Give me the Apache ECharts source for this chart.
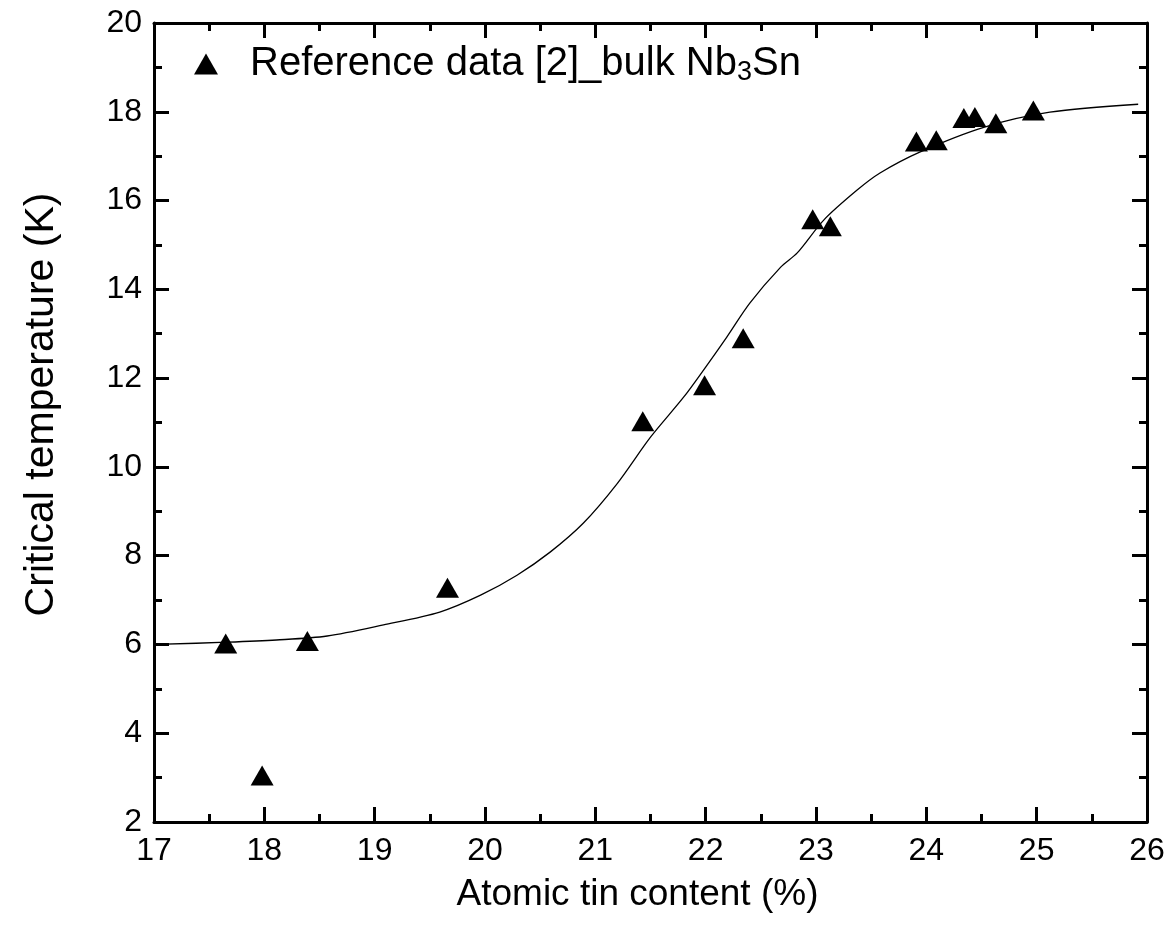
<!DOCTYPE html>
<html>
<head>
<meta charset="utf-8">
<script src="https://cdn.jsdelivr.net/npm/echarts@6/dist/echarts.min.js"></script>
<style>html,body{margin:0;padding:0;background:#fff}#c{width:1174px;height:940px}</style>
</head>
<body>
<div id="c"></div>
<script>
// Measured data: atomic tin content (%) vs critical temperature (K)
const dataX = [17.65, 17.98, 18.39, 19.66, 21.43, 21.99, 22.34, 22.97, 23.13, 23.91, 24.09, 24.34, 24.44, 24.63, 24.97];
const dataY = [6.02, 3.05, 6.08, 7.28, 11.03, 11.84, 12.90, 15.58, 15.42, 17.33, 17.36, 17.86, 17.88, 17.74, 18.03];
// Fitted curve
const fitX = [17.02, 17.66, 18.11, 18.57, 19.08, 19.59, 19.96, 20.29, 20.59, 20.89, 21.20, 21.50, 21.80, 22.00, 22.19, 22.40, 22.68, 22.83, 23.07, 23.37, 23.58, 23.94, 24.52, 25.12, 25.92];
const fitY = [6.00, 6.05, 6.10, 6.19, 6.44, 6.73, 7.11, 7.56, 8.08, 8.73, 9.63, 10.67, 11.57, 12.25, 12.92, 13.69, 14.50, 14.82, 15.56, 16.23, 16.62, 17.09, 17.65, 17.99, 18.17];
const xMin = 17, xMax = 26, xStep = 1;
const yMin = 2, yMax = 20, yStep = 2;
const seriesName = 'Reference data [2]_bulk Nb3Sn';

const FONT = 'Liberation Sans, Arial, sans-serif';
const scatter = dataX.map((x, i) => [x, dataY[i]]);
const fit = fitX.map((x, i) => [x, fitY[i]]);

const axisCommon = {
  axisLine: { show: true, onZero: false, lineStyle: { color: '#000', width: 3 } },
  axisTick: { show: true, inside: true, length: 15, lineStyle: { color: '#000', width: 3 } },
  minorTick: { show: true, splitNumber: 2, length: 8, lineStyle: { color: '#000', width: 3 } },
  splitLine: { show: false },
  minorSplitLine: { show: false }
};

const chart = echarts.init(document.getElementById('c'), null, { renderer: 'canvas' });
chart.setOption({
  animation: false,
  backgroundColor: '#fff',
  grid: { left: 154, right: 27, top: 23, bottom: 118, containLabel: false },
  legend: {
    data: [{ name: seriesName, icon: 'triangle', itemStyle: { color: '#000', opacity: 1 } }],
    left: 189, top: 39,
    itemWidth: 24, itemHeight: 21, itemGap: 10,
    formatter: () => '{a|Reference data [2]_bulk Nb}{s|3}{b|Sn}',
    textStyle: {
      color: '#000', fontFamily: FONT, fontSize: 40,
      rich: {
        a: { fontSize: 40, fontFamily: FONT, color: '#000', padding: [0, 0, 0, 27] },
        s: { fontSize: 27, fontFamily: FONT, color: '#000', padding: [18, 0, 0, 0] },
        b: { fontSize: 40, fontFamily: FONT, color: '#000' }
      }
    }
  },
  xAxis: [
    Object.assign({}, axisCommon, {
      type: 'value', min: xMin, max: xMax, interval: xStep, position: 'bottom',
      name: 'Atomic tin content (%)', nameLocation: 'middle', nameGap: 54,
      nameTextStyle: { fontFamily: FONT, fontSize: 37, color: '#000', padding: [0, 26, 0, 0] },
      axisLabel: { color: '#000', fontFamily: FONT, fontSize: 32, margin: 13 }
    }),
    Object.assign({}, axisCommon, {
      type: 'value', min: xMin, max: xMax, interval: xStep, position: 'top',
      axisLabel: { show: false }
    })
  ],
  yAxis: [
    Object.assign({}, axisCommon, {
      type: 'value', min: yMin, max: yMax, interval: yStep, position: 'left',
      name: 'Critical temperature (K)', nameLocation: 'middle', nameGap: 92,
      nameTextStyle: { fontFamily: FONT, fontSize: 41, color: '#000', padding: [0, 0, 0, 36] },
      axisLabel: { color: '#000', fontFamily: FONT, fontSize: 32, margin: 12 }
    }),
    Object.assign({}, axisCommon, {
      type: 'value', min: yMin, max: yMax, interval: yStep, position: 'right',
      axisLabel: { show: false }
    })
  ],
  series: [
    {
      name: 'fit', type: 'line', data: fit, xAxisIndex: 0, yAxisIndex: 0,
      showSymbol: false, smooth: 0.3,
      lineStyle: { color: '#000', width: 1.3 }, z: 2, silent: true
    },
    {
      name: seriesName, type: 'scatter', data: scatter, xAxisIndex: 0, yAxisIndex: 0,
      symbol: 'triangle', symbolSize: [23, 20],
      itemStyle: { color: '#000', opacity: 1 }, z: 3
    }
  ]
});
</script>
</body>
</html>
